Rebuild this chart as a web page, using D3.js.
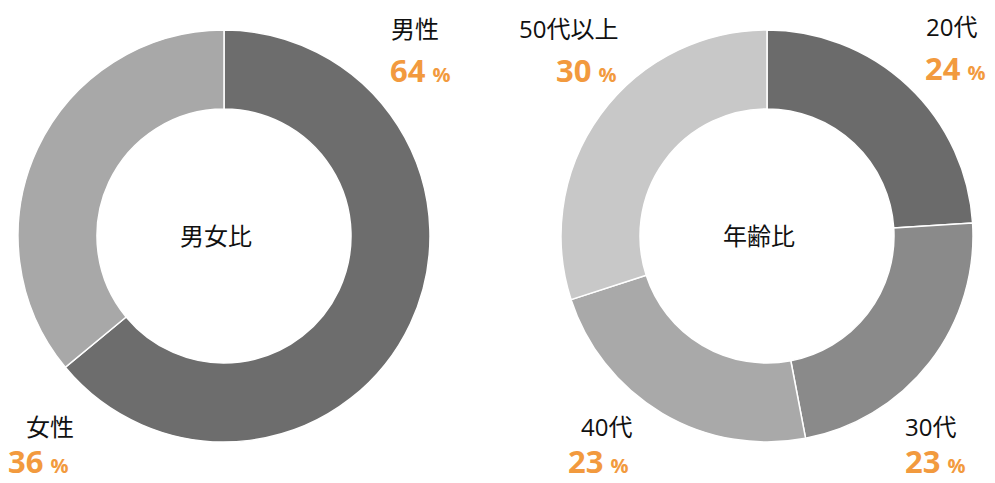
<!DOCTYPE html>
<html>
<head>
<meta charset="utf-8">
<script src="https://cdn.jsdelivr.net/npm/d3@7"></script>
<style>
  body { margin: 0; background: #fff; }
  text { font-family: "Open Sans", "Noto Sans CJK JP", sans-serif; }
</style>
</head>
<body>
<div id="chart"></div>
<script>
// data
const genderLabels = ["男性", "女性"];
const genderValues = [64, 36];
const ageLabels = ["20代", "30代", "40代", "50代以上"];
const ageValues = [24, 23, 23, 30];

const W = 995, H = 483;
const outerR = 206, innerR = 127;
const orange = "#f29a3e";

const svg = d3.select("#chart").append("svg")
  .attr("width", W).attr("height", H);

function donut(cx, cy, labels, values, colors, title, labelPos) {
  const g = svg.append("g").attr("transform", `translate(${cx},${cy})`);
  const pie = d3.pie().sort(null).value(d => d);
  const arc = d3.arc().innerRadius(innerR).outerRadius(outerR);
  const color = d3.scaleOrdinal().domain(labels).range(colors);

  g.selectAll("path")
    .data(pie(values))
    .enter()
    .append("path")
    .attr("d", arc)
    .attr("fill", (d, i) => color(labels[i]))
    .attr("stroke", "#fff")
    .attr("stroke-width", 1.5);

  g.append("text")
    .attr("x", -8).attr("y", 9)
    .attr("text-anchor", "middle")
    .attr("font-size", 24)
    .attr("fill", "#111")
    .text(title);

  // outside labels, positions relative to page
  labels.forEach((lab, i) => {
    const p = labelPos[i];
    svg.append("text")
      .attr("x", p[0]).attr("y", p[1])
      .attr("font-size", 24)
      .attr("fill", "#111")
      .text(lab);
    const t = svg.append("text")
      .attr("x", p[2]).attr("y", p[3])
      .attr("fill", orange)
      .attr("font-weight", "bold");
    t.append("tspan").attr("font-size", 31).text(values[i]);
    t.append("tspan").attr("font-size", 20).attr("dx", 7).text("%");
  });
}

donut(224, 236, genderLabels, genderValues, ["#6d6d6d", "#a8a8a8"], "男女比",
  [[391, 38, 390, 82], [26, 436, 8, 473]]);

donut(767, 236, ageLabels, ageValues, ["#6b6b6b", "#8a8a8a", "#a9a9a9", "#c8c8c8"], "年齢比",
  [[926, 36, 925, 80], [905, 436, 905, 473], [581, 436, 568, 473], [519, 38, 556, 82]]);
</script>
</body>
</html>
